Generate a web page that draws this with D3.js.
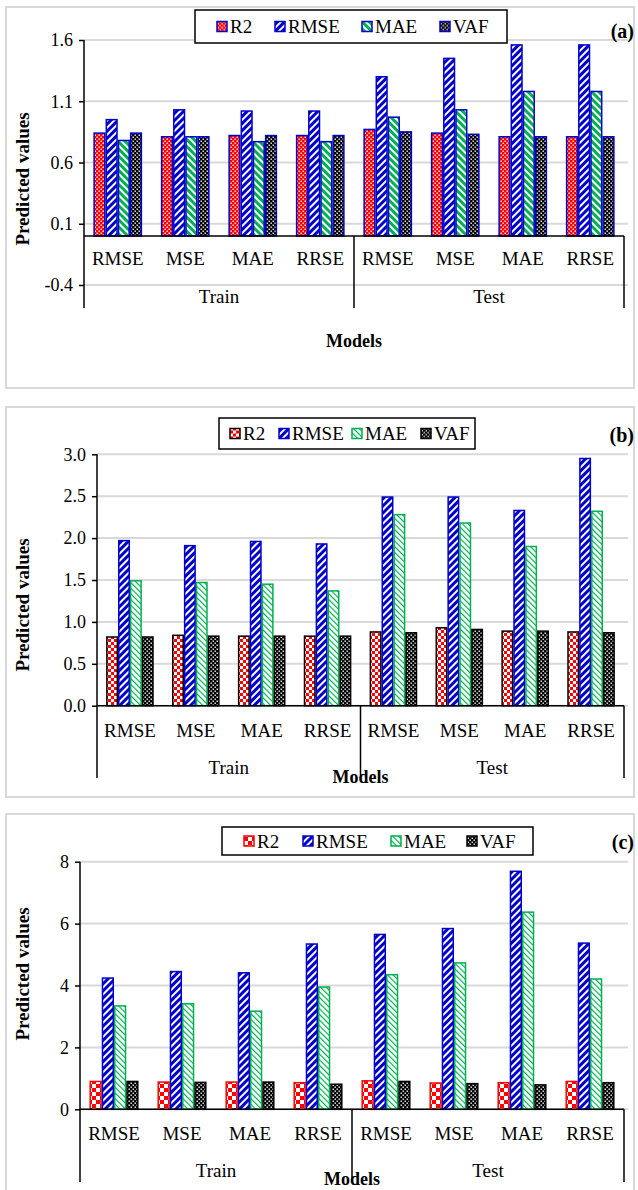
<!DOCTYPE html>
<html>
<head>
<meta charset="utf-8">
<script src="https://cdn.jsdelivr.net/npm/d3@7"></script>
<style>
  body { margin: 0; background: #fff; }
  svg { display: block; }
  svg text { font-family: "Liberation Serif", "DejaVu Serif", serif; fill: #000; }
</style>
</head>
<body>
<div id="chart"></div>
<script>
// categories on the x axis (two levels)
var categories = ["RMSE", "MSE", "MAE", "RRSE", "RMSE", "MSE", "MAE", "RRSE"];
var groups = ["Train", "Test"];
var series = ["R2", "RMSE", "MAE", "VAF"];

// panel (a)
var r2A   = [0.84, 0.81, 0.82, 0.82, 0.87, 0.84, 0.81, 0.81];
var rmseA = [0.95, 1.03, 1.02, 1.02, 1.30, 1.45, 1.56, 1.56];
var maeA  = [0.78, 0.81, 0.77, 0.77, 0.97, 1.03, 1.18, 1.18];
var vafA  = [0.84, 0.81, 0.82, 0.82, 0.85, 0.83, 0.81, 0.81];
var ticksA = [-0.4, 0.1, 0.6, 1.1, 1.6];

// panel (b)
var r2B   = [0.82, 0.84, 0.83, 0.83, 0.88, 0.93, 0.89, 0.88];
var rmseB = [1.97, 1.91, 1.96, 1.93, 2.49, 2.49, 2.33, 2.95];
var maeB  = [1.49, 1.47, 1.45, 1.37, 2.28, 2.18, 1.90, 2.32];
var vafB  = [0.82, 0.83, 0.83, 0.83, 0.87, 0.91, 0.89, 0.87];
var ticksB = [0, 0.5, 1.0, 1.5, 2.0, 2.5, 3.0];

// panel (c)
var r2C   = [0.90, 0.88, 0.88, 0.86, 0.92, 0.85, 0.86, 0.90];
var rmseC = [4.24, 4.45, 4.41, 5.34, 5.65, 5.84, 7.69, 5.37];
var maeC  = [3.34, 3.41, 3.17, 3.95, 4.35, 4.73, 6.37, 4.21];
var vafC  = [0.90, 0.87, 0.88, 0.81, 0.90, 0.83, 0.79, 0.86];
var ticksC = [0, 2, 4, 6, 8];

var RED = "#ff0000", BLUE = "#0000cc", GREEN = "#00b050", BLACK = "#000000";

var width = 638, height = 1190;

var svg = d3.select("#chart").append("svg")
  .attr("width", width)
  .attr("height", height);

var defs = svg.append("defs");

// --- fill patterns ---
function dots(id, bg, fg) {
  var p = defs.append("pattern").attr("id", id)
    .attr("patternUnits", "userSpaceOnUse").attr("width", 4).attr("height", 4);
  p.append("rect").attr("width", 4).attr("height", 4).attr("fill", bg);
  p.append("rect").attr("x", 0.5).attr("y", 0.5).attr("width", 1.4).attr("height", 1.4).attr("fill", fg);
  p.append("rect").attr("x", 2.5).attr("y", 2.5).attr("width", 1.4).attr("height", 1.4).attr("fill", fg);
}
function checker(id, bg, fg, cell) {
  var p = defs.append("pattern").attr("id", id)
    .attr("patternUnits", "userSpaceOnUse").attr("width", cell * 2).attr("height", cell * 2);
  p.append("rect").attr("width", cell * 2).attr("height", cell * 2).attr("fill", bg);
  p.append("rect").attr("width", cell).attr("height", cell).attr("fill", fg);
  p.append("rect").attr("x", cell).attr("y", cell).attr("width", cell).attr("height", cell).attr("fill", fg);
}
function stripes(id, bg, fg, angle, period, lw) {
  var p = defs.append("pattern").attr("id", id)
    .attr("patternUnits", "userSpaceOnUse").attr("width", period).attr("height", period)
    .attr("patternTransform", "rotate(" + angle + ")");
  p.append("rect").attr("width", period).attr("height", period).attr("fill", bg);
  p.append("rect").attr("x", 0).attr("width", lw).attr("height", period).attr("fill", fg);
}

dots("a-r2", RED, "#fff");
stripes("a-rmse", BLUE, "#fff", 45, 5, 2);
stripes("a-mae", GREEN, "#fff", -45, 5, 2);
dots("a-vaf", BLACK, "#fff");

checker("b-r2", RED, "#fff", 3);
stripes("b-rmse", BLUE, "#fff", 45, 5, 2);
stripes("b-mae", "#fff", GREEN, -45, 4, 1.2);
dots("b-vaf", BLACK, "#fff");

checker("c-r2", RED, "#fff", 4);
stripes("c-rmse", BLUE, "#fff", 45, 5, 2);
stripes("c-mae", "#fff", GREEN, -45, 4, 1.2);
dots("c-vaf", BLACK, "#fff");

// plain hyphen for negatives, as in the original
var fmt1 = function(d) { return d3.format(".1f")(d).replace("\u2212", "-"); };

var panels = [
  {
    tag: "a", values: [r2A, rmseA, maeA, vafA], ticks: ticksA, fmt: fmt1,
    box: [6, 7, 628, 381], left: 84, right: 624, yTop: 40, yBottom: 285,
    catY: 258, groupY: 296, sepBottom: 308, modelsY: 341, ylabelY: 179,
    legend: {x: 195, y: 10, w: 312, h: 33, offs: [22, 80, 167, 245]}, tagY: 31,
    strokes: [BLUE, BLUE, BLUE, BLUE]
  },
  {
    tag: "b", values: [r2B, rmseB, maeB, vafB], ticks: ticksB, fmt: fmt1,
    box: [6, 407, 628, 390], left: 97, right: 624, yTop: 454.3, yBottom: 705.7,
    catY: 730, groupY: 767, sepBottom: 778, modelsY: 777, ylabelY: 605,
    legend: {x: 219, y: 418, w: 256, h: 31, offs: [11, 60, 133, 202]}, tagY: 435,
    strokes: [BLACK, BLUE, GREEN, BLACK]
  },
  {
    tag: "c", values: [r2C, rmseC, maeC, vafC], ticks: ticksC, fmt: d3.format("d"),
    box: [6, 814, 628, 380], left: 80, right: 624, yTop: 861.7, yBottom: 1109.3,
    catY: 1133, groupY: 1170, sepBottom: 1182, modelsY: 1179, ylabelY: 974,
    legend: {x: 222, y: 827, w: 311, h: 28, offs: [22, 81, 169, 245]}, tagY: 842,
    strokes: [RED, BLUE, GREEN, BLACK]
  }
];

panels.forEach(function(P) {
  var g = svg.append("g");

  // outer frame
  g.append("rect")
    .attr("x", P.box[0]).attr("y", P.box[1])
    .attr("width", P.box[2]).attr("height", P.box[3])
    .attr("fill", "#fff").attr("stroke", "#d9d9d9").attr("stroke-width", 2);

  var y = d3.scaleLinear()
    .domain([P.ticks[0], P.ticks[P.ticks.length - 1]])
    .range([P.yBottom, P.yTop]);

  var x = d3.scaleBand()
    .domain(d3.range(categories.length))
    .range([P.left, P.right])
    .paddingInner(0.3)
    .paddingOuter(0.15);

  var xs = d3.scaleBand()
    .domain(series)
    .range([0, x.bandwidth()])
    .paddingInner(0.12);

  // gridlines
  g.append("g").selectAll("line")
    .data(P.ticks)
    .enter().append("line")
    .attr("x1", P.left).attr("x2", P.right + 4)
    .attr("y1", function(d) { return y(d); })
    .attr("y2", function(d) { return y(d); })
    .attr("stroke", "#d9d9d9").attr("stroke-width", 2);

  // y axis
  var yAxis = d3.axisLeft(y).tickValues(P.ticks).tickFormat(P.fmt).tickSize(5).tickPadding(6);
  var ya = g.append("g").attr("transform", "translate(" + P.left + ",0)").call(yAxis);
  ya.attr("font-family", null).attr("font-size", null);
  ya.select(".domain").remove();
  ya.selectAll(".tick line").attr("stroke", "#000").attr("stroke-width", 1.5);
  ya.selectAll(".tick text")
    .style("font-size", "18px").attr("fill", "#000");

  // bars
  series.forEach(function(s, si) {
    g.append("g").selectAll("rect")
      .data(P.values[si])
      .enter().append("rect")
      .attr("x", function(d, i) { return x(i) + xs(s); })
      .attr("width", xs.bandwidth())
      .attr("y", function(d) { return y(d); })
      .attr("height", function(d) { return y(0) - y(d); })
      .attr("fill", "url(#" + P.tag + "-" + s.toLowerCase() + ")")
      .attr("stroke", P.strokes[si])
      .attr("stroke-width", 1.5);
  });

  // category axis at zero
  g.append("line")
    .attr("x1", P.left).attr("x2", P.right)
    .attr("y1", y(0)).attr("y2", y(0))
    .attr("stroke", "#000").attr("stroke-width", 1.5);

  // vertical axis line and group separators
  g.append("line")
    .attr("x1", P.left).attr("x2", P.left)
    .attr("y1", P.yTop).attr("y2", P.sepBottom)
    .attr("stroke", "#000").attr("stroke-width", 1.5);
  var mid = (P.left + P.right) / 2;
  [mid, P.right].forEach(function(sx) {
    g.append("line")
      .attr("x1", sx).attr("x2", sx)
      .attr("y1", y(0)).attr("y2", P.sepBottom)
      .attr("stroke", "#000").attr("stroke-width", 1.5);
  });

  // category labels
  g.append("g").selectAll("text")
    .data(categories)
    .enter().append("text")
    .attr("x", function(d, i) { return x(i) + x.bandwidth() / 2; })
    .attr("y", P.catY)
    .attr("dy", "0.35em")
    .attr("text-anchor", "middle")
    .style("font-size", "19px")
    .text(function(d) { return d; });

  g.append("g").selectAll("text")
    .data(groups)
    .enter().append("text")
    .attr("x", function(d, i) { return P.left + (P.right - P.left) * (i * 2 + 1) / 4; })
    .attr("y", P.groupY)
    .attr("dy", "0.35em")
    .attr("text-anchor", "middle")
    .style("font-size", "19px")
    .text(function(d) { return d; });

  // axis titles
  g.append("text")
    .attr("x", mid).attr("y", P.modelsY).attr("dy", "0.35em")
    .attr("text-anchor", "middle")
    .style("font-size", "18px").style("font-weight", "bold")
    .text("Models");

  g.append("text")
    .attr("transform", "translate(22," + P.ylabelY + ") rotate(-90)")
    .attr("dy", "0.35em")
    .attr("text-anchor", "middle")
    .style("font-size", "19px").style("font-weight", "bold")
    .text("Predicted values");

  // panel tag
  g.append("text")
    .attr("x", 634).attr("y", P.tagY).attr("dy", "0.35em")
    .attr("text-anchor", "end")
    .style("font-size", "20px").style("font-weight", "bold")
    .text("(" + P.tag + ")");

  // legend
  var L = P.legend;
  var lg = g.append("g").attr("transform", "translate(" + L.x + "," + L.y + ")");
  lg.append("rect")
    .attr("width", L.w).attr("height", L.h)
    .attr("fill", "#fff").attr("stroke", "#000").attr("stroke-width", 1.5);
  var item = lg.selectAll(".item")
    .data(series)
    .enter().append("g")
    .attr("class", "item")
    .attr("transform", function(d, i) { return "translate(" + L.offs[i] + "," + (L.h / 2) + ")"; });
  item.append("rect")
    .attr("x", 0).attr("y", -5)
    .attr("width", 10).attr("height", 10)
    .attr("fill", function(d) { return "url(#" + P.tag + "-" + d.toLowerCase() + ")"; })
    .attr("stroke", function(d, i) { return P.strokes[i]; })
    .attr("stroke-width", 1.5);
  item.append("text")
    .attr("x", 13).attr("dy", "0.35em")
    .style("font-size", "19px")
    .text(function(d) { return d; });
});
</script>
</body>
</html>
